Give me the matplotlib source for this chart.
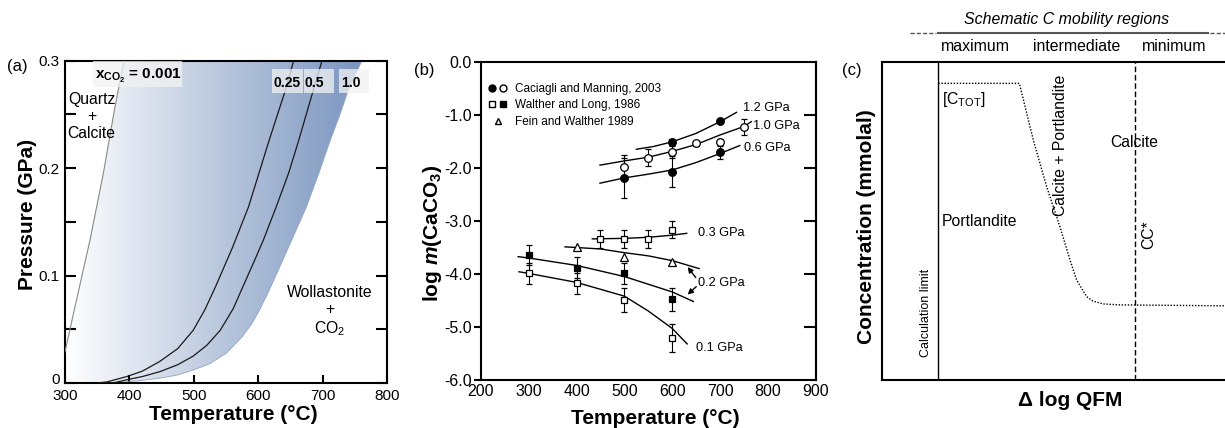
import numpy as np
import matplotlib
matplotlib.use('Agg')
import matplotlib.pyplot as plt
from matplotlib.patches import Polygon, Rectangle
from matplotlib.colors import LinearSegmentedColormap
from matplotlib.lines import Line2D
from matplotlib.legend_handler import HandlerTuple
from matplotlib.ticker import FixedLocator
from matplotlib.transforms import ScaledTranslation

plt.rcParams['font.family'] = ['Liberation Sans', 'DejaVu Sans']
plt.rcParams['mathtext.fontset'] = 'custom'
plt.rcParams['mathtext.rm'] = 'Liberation Sans'
plt.rcParams['mathtext.it'] = 'Liberation Sans:italic'
plt.rcParams['mathtext.bf'] = 'Liberation Sans:bold'
plt.rcParams['mathtext.bfit'] = 'Liberation Sans:italic:bold'
plt.rcParams['axes.unicode_minus'] = False

# ---------------- Panel (a) data: reaction curves (T in C, P in GPa) -------------
T_x0001 = [300, 315.5, 338.8, 359.5, 377.6, 391.6]
P_x0001 = [0.029, 0.071, 0.133, 0.195, 0.257, 0.300]
T_x025 = [350, 365, 396, 420, 447, 475, 499, 517, 534, 560, 585, 600, 616, 630, 642, 655]
P_x025 = [0.0, 0.001, 0.006, 0.011, 0.020, 0.032, 0.049, 0.068, 0.090, 0.126, 0.164,
          0.193, 0.224, 0.250, 0.272, 0.300]
T_x05 = [360, 378, 396, 420, 447, 475, 499, 520, 541, 561, 578, 595, 608, 628, 647, 663, 678, 699]
P_x05 = [0.0, 0.0005, 0.003, 0.006, 0.0105, 0.017, 0.025, 0.035, 0.049, 0.069, 0.092, 0.115,
         0.133, 0.164, 0.195, 0.226, 0.257, 0.300]
T_x10 = [359, 396, 420, 447, 475, 499, 525, 551, 575, 590, 603, 616, 629, 652, 675, 694,
         712, 727, 740, 761]
P_x10 = [0.0, 0.001, 0.0025, 0.0045, 0.0075, 0.012, 0.018, 0.028, 0.043, 0.055, 0.069, 0.085,
         0.102, 0.133, 0.164, 0.195, 0.226, 0.250, 0.273, 0.300]
a_xticks = [300, 400, 500, 600, 700, 800]
a_yticks = [0, 0.1, 0.2, 0.3]
a_ylabels = ['0', '0.1', '0.2', '0.3']
a_yminor = [0.05, 0.15, 0.25]
a_boxlabels = ['0.25', '0.5', '1.0']

# ---------------- Panel (b) data: log m(CaCO3) vs T ------------------------------
cm12_T = [600, 700]; cm12_v = [-1.51, -1.12]; cm12_e = [0.06, 0.03]
cm10_T = [500, 550, 600, 650, 700, 750]
cm10_v = [-1.98, -1.81, -1.70, -1.54, -1.51, -1.225]
cm10_e = [0.22, 0.16, 0.12, 0.05, 0.06, 0.15]
cm06_T = [500, 600, 700]; cm06_v = [-2.19, -2.07, -1.71]; cm06_e = [0.38, 0.29, 0.13]
wl03_T = [450, 500, 550, 600]; wl03_v = [-3.34, -3.34, -3.34, -3.17]; wl03_e = [0.17, 0.17, 0.17, 0.16]
fw02_T = [400, 500, 600]; fw02_v = [-3.50, -3.675, -3.77]
wl02_T = [300, 400, 500, 600]; wl02_v = [-3.64, -3.88, -3.99, -4.48]; wl02_e = [0.19, 0.20, 0.20, 0.22]
wl01_T = [300, 400, 500, 600]; wl01_v = [-3.99, -4.18, -4.49, -5.21]; wl01_e = [0.20, 0.20, 0.22, 0.27]

f12_T = [525, 560, 600, 650, 700, 734]; f12_v = [-1.65, -1.60, -1.51, -1.35, -1.13, -0.955]
f10_T = [449, 500, 550, 600, 650, 700, 750, 765]; f10_v = [-1.95, -1.87, -1.80, -1.69, -1.56, -1.38, -1.22, -1.13]
f06_T = [449, 500, 550, 600, 650, 700, 741]; f06_v = [-2.29, -2.19, -2.12, -2.04, -1.90, -1.73, -1.58]
f03_T = [433, 500, 550, 600, 630]; f03_v = [-3.34, -3.33, -3.31, -3.27, -3.235]
f02t_T = [376, 450, 500, 550, 600, 656]; f02t_v = [-3.49, -3.53, -3.60, -3.66, -3.75, -3.90]
f02s_T = [278, 300, 400, 500, 600, 644]; f02s_v = [-3.675, -3.70, -3.84, -4.05, -4.34, -4.52]
f01_T = [280, 300, 400, 500, 550, 600, 631]; f01_v = [-3.96, -3.99, -4.16, -4.42, -4.70, -5.03, -5.32]
b_xticks = [200, 300, 400, 500, 600, 700, 800, 900]
b_yticks = [0, -1, -2, -3, -4, -5, -6]
b_ylabels = ['0.0', '-1.0', '-2.0', '-3.0', '-4.0', '-5.0', '-6.0']
legend_labels = ['Caciagli and Manning, 2003', 'Walther and Long, 1986', 'Fein and Walther 1989']

# ---------------- Panel (c) data: schematic -------------------------------------
c_limit_x = 0.165
c_cc_x = 0.739
c_ctot_x = [0.165, 0.401, 0.4416, 0.4806, 0.519, 0.5485, 0.568, 0.585, 0.597, 0.615,
            0.6455, 0.694, 1.0]
c_ctot_y = [0.932, 0.932, 0.754, 0.607, 0.482, 0.377, 0.314, 0.283, 0.262, 0.248,
            0.239, 0.236, 0.233]
regions = ['maximum', 'intermediate', 'minimum']

W, H = 1225, 428
fig = plt.figure(figsize=(W / 100, H / 100), dpi=100)


def fx(x):
    return x / W


def fy(y):
    return 1 - y / H


# ================= Panel (a) =================
axA = fig.add_axes([fx(65), fy(383), (387 - 65) / W, (383 - 60.7) / H])
cmap = LinearSegmentedColormap.from_list('g', ['#ffffff', '#7a95bf'])
verts = [(300, 0)] + list(zip(T_x0001, P_x0001)) + list(zip(T_x10[::-1], P_x10[::-1]))
im = axA.imshow(np.linspace(0, 1, 256)[None, :], extent=[300, max(T_x10), 0, 0.3],
                cmap=cmap, aspect='auto', origin='lower', zorder=1)
clip = Polygon(verts, closed=True, transform=axA.transData, facecolor='none', edgecolor='none')
im.set_clip_path(clip)
axA.plot(T_x10, P_x10, color='#8ea3c6', lw=0.6, zorder=2)
axA.plot(T_x0001, P_x0001, color='#8a8a8a', lw=0.8, zorder=3)
axA.plot(T_x025, P_x025, color='#1a1a1a', lw=0.9, zorder=3)
axA.plot(T_x05, P_x05, color='#1a1a1a', lw=0.9, zorder=3)
axA.set_xlim(300, 800)
axA.set_ylim(0, 0.3)
axA.set_xticks(a_xticks)
axA.set_yticks(a_yticks, labels=a_ylabels)
axA.yaxis.set_minor_locator(FixedLocator(a_yminor))
axA.tick_params(axis='y', which='both', direction='in', length=8, width=1.5,
                left=True, right=True, labelsize=11, pad=4)
axA.tick_params(axis='x', which='both', direction='in', length=5.5, width=1.5,
                top=False, labelsize=11, pad=4)
for s in axA.spines.values():
    s.set_linewidth(1.5)
# lift the "0" label slightly, as in the original
zero_lab = axA.get_yticklabels()[0]
zero_lab.set_transform(zero_lab.get_transform() + ScaledTranslation(0, 3 / 72, fig.dpi_scale_trans))

# light label boxes
boxkw = dict(facecolor='#f2f2f2', edgecolor='none', alpha=0.75, zorder=4)
axA.add_patch(Rectangle((344, 0.2755), 137.5, 0.0245, **boxkw))
for (t0, t1) in [(621, 670), (671, 717.5), (725, 772)]:
    axA.add_patch(Rectangle((t0, 0.270), t1 - t0, 0.0223, **boxkw))
axA.text(346.6, 0.286, r'$\mathbf{x_{CO_2}}$ = 0.001', fontsize=11, fontweight='bold',
         ha='left', va='center', zorder=5)
for lab, t in zip(a_boxlabels, [645.5, 686.5, 743.3]):
    axA.text(t, 0.2795, lab, fontsize=10, fontweight='bold', ha='center', va='center', zorder=5)
axA.text(341.4, 0.248, 'Quartz\n+\nCalcite', fontsize=11.3, ha='center', va='center',
         linespacing=1.17, zorder=5)
axA.text(711.5, 0.0664, 'Wollastonite\n+\nCO$_2$', fontsize=11.3, ha='center', va='center',
         linespacing=1.17, zorder=5)

fig.text(fx(233), fy(415), 'Temperature (°C)', fontsize=15, fontweight='bold', ha='center', va='center')
fig.text(fx(28), fy(214), 'Pressure (GPa)', fontsize=15, fontweight='bold', ha='center',
         va='center', rotation=90)
fig.text(fx(17), fy(66), '(a)', fontsize=12, ha='center', va='center')

# ================= Panel (b) =================
axB = fig.add_axes([fx(480.7), fy(380), (816 - 480.7) / W, (380 - 61.7) / H])
for T, v in [(f12_T, f12_v), (f10_T, f10_v), (f06_T, f06_v), (f03_T, f03_v),
             (f02t_T, f02t_v), (f02s_T, f02s_v), (f01_T, f01_v)]:
    axB.plot(T, v, color='black', lw=1.0, zorder=2)

ekw = dict(ls='none', ecolor='black', elinewidth=0.8, capsize=2.5, capthick=0.8,
           mec='black', mew=0.9, zorder=3)
axB.errorbar(cm12_T, cm12_v, yerr=cm12_e, fmt='o', ms=5.5, mfc='black', **ekw)
axB.errorbar(cm10_T, cm10_v, yerr=cm10_e, fmt='o', ms=5.5, mfc='white', **ekw)
axB.errorbar(cm06_T, cm06_v, yerr=cm06_e, fmt='o', ms=5.5, mfc='black', **ekw)
axB.errorbar(wl03_T, wl03_v, yerr=wl03_e, fmt='s', ms=5, mfc='white', **ekw)
axB.errorbar(wl02_T, wl02_v, yerr=wl02_e, fmt='s', ms=5, mfc='black', **ekw)
axB.errorbar(wl01_T, wl01_v, yerr=wl01_e, fmt='s', ms=5, mfc='white', **ekw)
axB.plot(fw02_T, fw02_v, ls='none', marker='^', ms=5.5, mfc='white', mec='black', mew=0.9, zorder=3)

lab_kw = dict(fontsize=9.2, ha='left', va='center')
axB.text(748, -0.88, '1.2 GPa', **lab_kw)
axB.text(769, -1.21, '1.0 GPa', **lab_kw)
axB.text(749.5, -1.63, '0.6 GPa', **lab_kw)
axB.text(654, -3.23, '0.3 GPa', **lab_kw)
axB.text(653, -4.18, '0.2 GPa', **lab_kw)
axB.text(649, -5.39, '0.1 GPa', **lab_kw)
akw = dict(arrowstyle='-|>', lw=1.0, color='black', mutation_scale=8, shrinkA=0, shrinkB=0)
axB.annotate('', xy=(632, -3.87), xytext=(649, -4.07), arrowprops=akw)
axB.annotate('', xy=(632, -4.39), xytext=(650, -4.24), arrowprops=akw)

axB.set_xlim(200, 900)
axB.set_ylim(-6, 0)
axB.set_xticks(b_xticks)
axB.set_yticks(b_yticks, labels=b_ylabels)
axB.tick_params(axis='y', direction='out', length=5, width=1.5, labelsize=11.5, pad=1.5,
                right=False)
axB.tick_params(axis='x', length=0, labelsize=11.5, pad=3)
for s in axB.spines.values():
    s.set_linewidth(1.5)
secB = axB.secondary_yaxis('right')
secB.set_yticks(b_yticks[1:-1])
secB.tick_params(direction='in', length=9, width=1.5, labelright=False)
secB.spines['right'].set_linewidth(1.5)

h1 = (Line2D([], [], ls='none', marker='o', ms=5, mfc='black', mec='black'),
      Line2D([], [], ls='none', marker='o', ms=5, mfc='white', mec='black'))
h2 = (Line2D([], [], ls='none', marker='s', ms=4.8, mfc='white', mec='black'),
      Line2D([], [], ls='none', marker='s', ms=4.8, mfc='black', mec='black'))
h3 = (Line2D([], [], ls='none', marker='^', ms=5, mfc='white', mec='black'),)
axB.legend([h1, h2, h3], legend_labels, handler_map={tuple: HandlerTuple(ndivide=None, pad=0.4)},
           loc='upper left', bbox_to_anchor=(0.022, 0.934), frameon=False, fontsize=8.5,
           handlelength=1.6, handletextpad=0.7, labelspacing=0.4, borderpad=0, borderaxespad=0)

fig.text(fx(655), fy(419), 'Temperature (°C)', fontsize=15, fontweight='bold', ha='center', va='center')
fig.text(fx(432), fy(233), r'log $\mathbfit{m}$(CaCO$_\mathbf{3}$)', fontsize=15, fontweight='bold',
         ha='center', va='center', rotation=90)
fig.text(fx(424), fy(71), '(b)', fontsize=12, ha='center', va='center')

# ================= Panel (c) =================
axC = fig.add_axes([fx(881.7), fy(380), (W - 881.7) / W, (380 - 61.7) / H])
axC.set_xlim(0, 1)
axC.set_ylim(0, 1)
axC.set_xticks([])
axC.set_yticks([])
for k, s in axC.spines.items():
    s.set_linewidth(1.5)
axC.spines['right'].set_visible(False)
axC.axvline(c_limit_x, color='black', lw=1.0)
axC.axvline(c_cc_x, color='black', lw=1.0, ls=(0, (4, 2)))
axC.plot(c_ctot_x, c_ctot_y, color='black', lw=1.0, ls=(0, (1, 1.2)))
axC.text(0.175, 0.88, r'[C$_{\rm TOT}$]', fontsize=11.3, ha='left', va='center')
axC.text(0.521, 0.738, 'Calcite + Portlandite', fontsize=11.3, ha='center', va='center', rotation=90)
axC.text(0.665, 0.746, 'Calcite', fontsize=11.3, ha='left', va='center')
axC.text(0.175, 0.4995, 'Portlandite', fontsize=11.3, ha='left', va='center')
axC.text(0.7766, 0.456, 'CC*', fontsize=11.3, ha='center', va='center', rotation=90)
axC.text(0.129, 0.21, 'Calculation limit', fontsize=9, ha='center', va='center', rotation=90)

fig.text(fx(1066.7), fy(19.3), 'Schematic C mobility regions', fontsize=11.4, style='italic',
         ha='center', va='center')
fig.add_artist(Line2D([fx(938.3), fx(1208.3)], [fy(32.7)] * 2, color='#555555', lw=1.5))
fig.add_artist(Line2D([fx(910), fx(936.5)], [fy(32.7)] * 2, color='#555555', lw=1.0, ls=(0, (3, 1.5))))
fig.add_artist(Line2D([fx(1210), fx(1225)], [fy(32.7)] * 2, color='#555555', lw=1.0, ls=(0, (3, 1.5))))
for name, xc in zip(regions, [975.7, 1076.7, 1174]):
    fig.text(fx(xc), fy(46.7), name, fontsize=11.4, ha='center', va='center')

fig.text(fx(1070), fy(400), 'Δ log QFM', fontsize=15, fontweight='bold', ha='center', va='center')
fig.text(fx(866.7), fy(226.7), 'Concentration (mmolal)', fontsize=15, fontweight='bold',
         ha='center', va='center', rotation=90)
fig.text(fx(852), fy(71), '(c)', fontsize=12, ha='center', va='center')

fig.savefig('out.png', dpi=100)
